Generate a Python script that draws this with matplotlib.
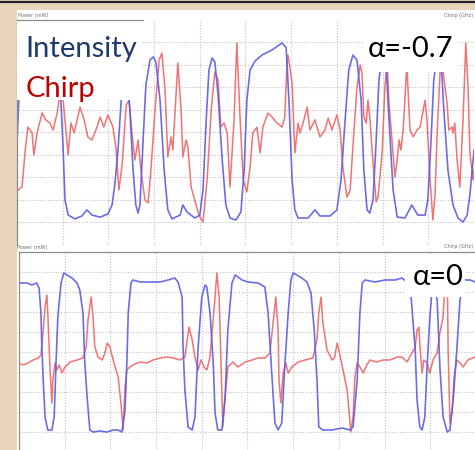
import matplotlib.pyplot as plt
from matplotlib.patches import Rectangle

# time and levels are in screen divisions (10 x 10 grid)
# alpha = -0.7 panel
t_int_a = [0.00, 0.04, 0.09, 0.50, 0.90, 0.96, 1.01, 1.05, 1.12, 1.27, 1.42, 1.53, 1.64, 1.82, 1.99,
           2.08, 2.14, 2.21, 2.28, 2.34, 2.41, 2.47, 2.54, 2.60, 2.65, 2.69, 2.76, 2.82, 2.91, 2.98,
           3.04, 3.13, 3.22, 3.30, 3.39, 3.57, 3.63, 3.72, 3.89, 4.00, 4.07, 4.14, 4.20, 4.27, 4.33,
           4.40, 4.49, 4.57, 4.66, 4.79, 4.90, 4.97, 5.03, 5.10, 5.21, 5.36, 5.58, 5.80, 5.89, 5.95,
           6.02, 6.08, 6.15, 6.37, 6.52, 6.63, 6.85, 7.00, 7.09, 7.18, 7.26, 7.35, 7.44, 7.53, 7.59,
           7.66, 7.72, 7.79, 7.86, 7.92, 7.99, 8.07, 8.14, 8.23, 8.32, 8.49, 8.64, 8.77, 8.93, 8.99,
           9.06, 9.12, 9.19, 9.28, 9.34, 9.43, 9.54, 9.65, 9.76, 9.85, 9.91, 10.00]
int_a = [4.53, 6.44, 8.00, 8.31, 8.13, 6.44, 4.22, 2.00, 1.33, 1.16, 1.29, 1.56, 1.33, 1.24, 1.38,
         1.78, 2.67, 4.22, 6.44, 7.78, 7.56, 6.00, 3.33, 1.78, 1.42, 1.78, 4.67, 7.11, 8.22, 8.36,
         8.13, 6.44, 3.33, 1.56, 1.16, 1.33, 1.78, 1.47, 1.20, 1.33, 2.44, 5.56, 7.78, 8.31, 8.13,
         6.67, 3.78, 1.78, 1.20, 1.11, 1.47, 3.33, 6.44, 7.78, 8.18, 8.44, 8.67, 8.98, 8.76, 6.44,
         2.89, 1.56, 1.20, 1.20, 1.56, 1.29, 1.29, 1.56, 2.89, 5.56, 7.78, 8.44, 8.22, 6.44, 3.33,
         1.56, 1.42, 2.00, 4.67, 7.33, 8.44, 8.22, 5.56, 2.44, 1.24, 1.20, 1.78, 1.33, 1.33, 2.00,
         4.67, 7.33, 8.44, 8.22, 6.00, 3.33, 1.78, 1.20, 1.02, 1.33, 2.22, 4.22]

t_chirp_a = [0.02, 0.11, 0.18, 0.24, 0.33, 0.37, 0.44, 0.55, 0.63, 0.72, 0.79, 0.88, 0.92, 0.96, 1.01,
             1.12, 1.18, 1.25, 1.38, 1.47, 1.55, 1.64, 1.75, 1.82, 1.90, 1.99, 2.10, 2.17, 2.23, 2.30,
             2.39, 2.45, 2.52, 2.58, 2.65, 2.71, 2.80, 2.87, 2.93, 3.02, 3.11, 3.17, 3.24, 3.30, 3.37,
             3.41, 3.48, 3.52, 3.59, 3.63, 3.70, 3.74, 3.81, 3.89, 3.98, 4.07, 4.16, 4.25, 4.33, 4.40,
             4.46, 4.53, 4.60, 4.66, 4.75, 4.81, 4.88, 4.95, 5.03, 5.10, 5.16, 5.25, 5.32, 5.38, 5.49,
             5.58, 5.69, 5.80, 5.86, 5.91, 5.93, 6.02, 6.08, 6.15, 6.19, 6.26, 6.35, 6.41, 6.52, 6.63,
             6.74, 6.81, 6.89, 7.00, 7.07, 7.13, 7.22, 7.29, 7.35, 7.44, 7.51, 7.55, 7.59, 7.64, 7.68,
             7.72, 7.79, 7.86, 7.90, 7.99, 8.05, 8.10, 8.14, 8.21, 8.27, 8.32, 8.36, 8.40, 8.45, 8.53,
             8.60, 8.67, 8.75, 8.82, 8.93, 8.97, 9.04, 9.10, 9.15, 9.19, 9.26, 9.32, 9.41, 9.45, 9.52,
             9.54, 9.58, 9.63, 9.69, 9.76, 9.82, 9.87, 9.91, 9.98, 10.00]
chirp_a = [2.44, 2.58, 4.22, 5.24, 4.98, 4.00, 4.98, 5.87, 5.56, 5.42, 5.11, 5.87, 6.44, 7.33, 6.44,
           4.00, 5.42, 4.98, 6.13, 5.56, 4.80, 4.67, 5.24, 5.69, 5.24, 5.78, 5.24, 4.22, 2.44, 3.56,
           6.22, 6.44, 4.89, 3.78, 4.67, 3.33, 2.00, 1.87, 3.33, 6.00, 8.22, 8.53, 6.89, 3.91, 4.80,
           4.22, 6.67, 8.09, 6.00, 3.91, 4.67, 4.36, 2.58, 2.00, 1.33, 1.02, 2.89, 6.00, 7.69, 7.33,
           5.24, 5.42, 4.98, 2.58, 5.56, 8.98, 5.69, 2.89, 2.36, 3.47, 4.98, 5.24, 4.09, 5.24, 5.87,
           5.69, 5.42, 5.24, 5.69, 8.22, 8.44, 7.20, 4.09, 5.42, 4.98, 5.42, 6.13, 5.11, 5.56, 4.80,
           5.11, 5.64, 5.11, 5.78, 5.11, 3.47, 2.13, 2.44, 4.36, 7.02, 8.00, 7.64, 5.69, 5.42, 6.44,
           5.69, 3.64, 1.91, 2.13, 4.09, 7.02, 8.13, 6.31, 4.53, 3.02, 3.78, 4.67, 4.22, 5.11, 8.00,
           5.11, 4.80, 5.11, 5.24, 6.44, 5.56, 2.89, 1.11, 2.31, 4.80, 7.78, 7.78, 6.31, 5.11, 5.24,
           4.98, 5.42, 3.78, 2.58, 5.56, 8.98, 7.02, 4.09, 2.89, 3.33]

# alpha = 0 panel
t_int_b = [0.00, 0.18, 0.28, 0.39, 0.44, 0.48, 0.50, 0.53, 0.57, 0.63, 0.72, 0.77, 0.81, 0.85, 0.92,
           0.98, 1.05, 1.16, 1.27, 1.33, 1.40, 1.44, 1.49, 1.55, 1.62, 1.77, 1.93, 2.06, 2.17, 2.25,
           2.32, 2.36, 2.39, 2.45, 2.49, 2.65, 2.87, 3.09, 3.26, 3.41, 3.48, 3.57, 3.59, 3.63, 3.70,
           3.79, 3.85, 3.92, 4.00, 4.07, 4.11, 4.18, 4.25, 4.29, 4.35, 4.44, 4.51, 4.57, 4.66, 4.73,
           4.88, 5.01, 5.23, 5.38, 5.45, 5.54, 5.60, 5.67, 5.75, 5.82, 5.89, 5.95, 6.00, 6.08, 6.19,
           6.30, 6.39, 6.46, 6.52, 6.56, 6.65, 6.85, 7.07, 7.24, 7.31, 7.40, 7.46, 7.51, 7.57, 7.79,
           8.01, 8.23, 8.38, 8.49, 8.58, 8.67, 8.71, 8.77, 8.82, 8.88, 8.93, 8.99, 9.04, 9.08, 9.15,
           9.21, 9.28, 9.37, 9.43, 9.50, 9.58, 9.65, 9.72, 9.87, 9.98]
int_b = [8.45, 8.45, 8.35, 8.45, 8.20, 6.95, 5.25, 3.60, 1.75, 1.10, 1.10, 1.75, 4.45, 6.75, 8.45,
         8.95, 8.85, 8.70, 8.45, 8.10, 6.95, 4.45, 2.75, 1.10, 1.00, 1.05, 1.00, 1.10, 1.10, 1.00,
         2.10, 4.45, 6.95, 8.45, 8.60, 8.50, 8.50, 8.50, 8.60, 8.70, 8.50, 7.75, 5.25, 3.10, 1.25,
         1.10, 1.75, 5.25, 7.75, 8.35, 8.25, 6.95, 4.45, 1.95, 1.10, 1.10, 2.75, 6.10, 8.45, 8.85,
         8.60, 8.50, 8.45, 8.25, 6.95, 3.60, 1.45, 1.10, 1.45, 4.45, 6.95, 8.60, 8.95, 8.85, 8.70,
         8.50, 7.95, 6.10, 3.60, 1.25, 1.10, 1.10, 1.20, 1.10, 1.25, 3.60, 6.95, 8.45, 8.60, 8.50,
         8.60, 8.60, 8.70, 8.50, 7.75, 5.10, 2.60, 1.25, 1.10, 1.75, 4.25, 6.75, 8.10, 8.35, 7.60,
         4.25, 1.75, 1.00, 1.10, 2.60, 5.10, 7.60, 8.60, 8.60, 8.50]

t_chirp_b = [0.00, 0.09, 0.20, 0.31, 0.42, 0.48, 0.53, 0.57, 0.61, 0.63, 0.68, 0.72, 0.74, 0.79, 0.83,
             0.88, 0.94, 1.01, 1.12, 1.27, 1.40, 1.47, 1.51, 1.58, 1.62, 1.66, 1.73, 1.82, 1.88, 1.93,
             1.99, 2.06, 2.17, 2.23, 2.28, 2.32, 2.36, 2.43, 2.49, 2.65, 2.80, 2.93, 3.09, 3.24, 3.37,
             3.52, 3.63, 3.68, 3.72, 3.79, 3.85, 3.92, 3.98, 4.05, 4.11, 4.18, 4.29, 4.33, 4.38, 4.42,
             4.46, 4.51, 4.57, 4.68, 4.79, 4.95, 5.10, 5.23, 5.38, 5.49, 5.56, 5.62, 5.67, 5.69, 5.73,
             5.78, 5.84, 5.89, 5.97, 6.11, 6.26, 6.43, 6.52, 6.56, 6.61, 6.65, 6.74, 6.85, 6.91, 6.96,
             7.00, 7.09, 7.18, 7.22, 7.26, 7.31, 7.35, 7.40, 7.46, 7.53, 7.61, 7.68, 7.83, 7.96, 8.12,
             8.27, 8.38, 8.49, 8.60, 8.67, 8.71, 8.75, 8.77, 8.82, 8.86, 8.93, 8.99, 9.06, 9.15, 9.21,
             9.28, 9.32, 9.37, 9.39, 9.43, 9.48, 9.52, 9.58, 9.65, 9.72, 9.82, 9.98]
chirp_b = [4.45, 4.35, 4.45, 4.60, 4.70, 4.85, 6.10, 7.25, 7.85, 6.95, 4.10, 2.45, 3.60, 4.45, 4.10,
           4.35, 3.95, 4.25, 4.50, 4.60, 4.70, 5.25, 6.60, 7.75, 6.75, 5.25, 4.75, 4.60, 4.95, 5.45,
           5.25, 4.60, 3.75, 2.45, 1.10, 3.25, 4.10, 4.25, 4.35, 4.50, 4.45, 4.60, 4.70, 4.75, 4.70,
           4.60, 4.75, 5.60, 6.25, 5.60, 4.75, 4.10, 4.60, 4.25, 4.10, 4.75, 7.75, 8.95, 7.75, 4.45,
           1.25, 2.75, 4.25, 4.50, 4.25, 4.50, 4.60, 4.70, 4.70, 4.95, 6.45, 7.75, 6.10, 3.60, 2.45,
           3.95, 4.45, 3.95, 4.25, 4.50, 4.60, 4.70, 5.60, 6.95, 7.75, 6.45, 5.10, 4.60, 4.75, 5.45,
           5.10, 4.10, 3.10, 2.10, 1.00, 1.75, 3.75, 4.45, 4.25, 3.95, 4.35, 4.60, 4.50, 4.60, 4.60,
           4.75, 4.75, 4.50, 4.95, 5.25, 6.10, 6.25, 5.45, 3.95, 4.60, 4.45, 3.95, 4.60, 4.95, 5.95,
           6.75, 8.45, 9.35, 5.10, 1.45, 2.10, 3.75, 4.60, 4.45, 4.25, 4.60, 4.75]

BLUE = "#5c5ce8"
RED = "#f06464"
TAN = "#e8d5bc"
GRID = "#c2c2c2"

fig = plt.figure(figsize=(4.75, 4.5), dpi=100, facecolor=TAN)
fig.patches.append(Rectangle((17 / 475, 0), 1, 1 - 10 / 450, transform=fig.transFigure,
                             facecolor="white", edgecolor="none", zorder=-5))
fig.add_artist(plt.Line2D([0, 1], [0.9956, 0.9956], color="#222222", lw=1.6))


def panel(rect, t_i, v_i, t_c, v_c, top_spine=True):
    ax = fig.add_axes(rect)
    ax.set_xlim(0, 10)
    ax.set_ylim(0, 10)
    ax.set_xticks(range(1, 10))
    ax.set_yticks(range(1, 10))
    ax.tick_params(length=0, labelbottom=False, labelleft=False)
    ax.grid(True, color=GRID, linestyle=(0, (1, 1.5)), lw=0.8)
    ax.spines["right"].set_visible(False)
    ax.spines["bottom"].set_visible(False)
    ax.spines["top"].set_visible(top_spine)
    for s in ["left", "top"]:
        ax.spines[s].set_color("#8c8c8c")
        ax.spines[s].set_linewidth(0.9)
    ax.plot(t_c, v_c, color=RED, lw=1.1, alpha=0.9)
    ax.plot(t_i, v_i, color=BLUE, lw=1.2, alpha=0.9)
    ax.patch.set_alpha(0)
    return ax


ax1 = panel([17 / 475, 1 - 245 / 450, 457 / 475, 225 / 450], t_int_a, int_a, t_chirp_a, chirp_a, False)
ax2 = panel([19 / 475, 1 - 452 / 450, 457 / 475, 200 / 450], t_int_b, int_b, t_chirp_b, chirp_b)

# white label boxes over the traces
ax1.add_patch(Rectangle((0, 0.644), 0.276, 0.356, transform=ax1.transAxes,
                        facecolor="white", edgecolor="none", zorder=5))
ax1.plot([0, 0.276], [1, 1], transform=ax1.transAxes, color="#8c8c8c", lw=0.9,
         zorder=6, clip_on=False)
ax1.add_patch(Rectangle((0.757, 0.769), 0.21, 0.231, transform=ax1.transAxes,
                        facecolor="white", edgecolor="none", zorder=5))
ax2.add_patch(Rectangle((0.845, 0.775), 0.131, 0.215, transform=ax2.transAxes,
                        facecolor="white", edgecolor="none", zorder=5))

font = ["Lato", "DejaVu Sans"]
fig.text(0.053, 0.873, "Intensity", color="#1f3a6e", fontsize=21, family=font, va="baseline")
fig.text(0.053, 0.784, "Chirp", color="#c00000", fontsize=21, family=font, va="baseline")
fig.text(0.775, 0.873, "α=-0.7", color="black", fontsize=21, family=font, va="baseline")
fig.text(0.869, 0.367, "α=0", color="black", fontsize=21, family=font, va="baseline")

small = dict(fontsize=3.6, color="#707070")
fig.text(0.038, 0.962, "Power (mW)", **small)
fig.text(0.997, 0.962, "Chirp (GHz)", ha="right", **small)
fig.text(0.036, 0.446, "Power (mW)", **small)
fig.text(0.997, 0.449, "Chirp (GHz)", ha="right", **small)

fig.savefig("out.png", dpi=100, facecolor=TAN)
